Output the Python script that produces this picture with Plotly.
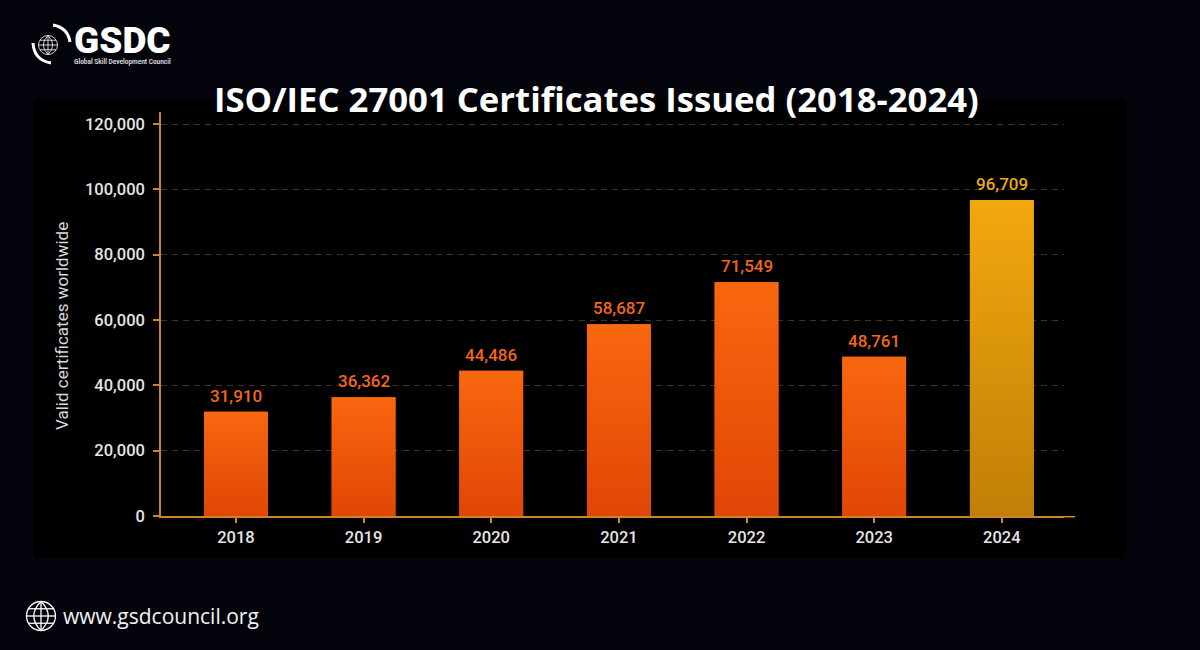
import plotly.graph_objects as go

W, H = 1200, 650

years = ["2018", "2019", "2020", "2021", "2022", "2023", "2024"]
certificates = [31910, 36362, 44486, 58687, 71549, 48761, 96709]
y_ticks = [0, 20000, 40000, 60000, 80000, 100000, 120000]

ORANGE_TOP, ORANGE_BOTTOM = "#f9670f", "#e04606"
GOLD_TOP, GOLD_BOTTOM = "#f2a80e", "#c07f08"
AXIS = "#cf8429"
GRID = "#4a3410"
TEXT = "#e6e6e6"


def px(x):
    return x / W


def py(y):
    return 1 - y / H


fig = go.Figure()

fig.add_trace(go.Bar(
    x=list(range(len(years))), y=certificates, width=0.5,
    marker=dict(color=[ORANGE_TOP] * 6 + [GOLD_TOP], line_width=0),
    hoverinfo="skip", showlegend=False,
))

# plain bars can't have a gradient, so lay a gradient filled area over each one
for i, v in enumerate(certificates):
    top, bottom = (GOLD_TOP, GOLD_BOTTOM) if i == 6 else (ORANGE_TOP, ORANGE_BOTTOM)
    fig.add_trace(go.Scatter(
        x=[i - 0.25, i - 0.25, i + 0.25, i + 0.25, i - 0.25], y=[0, v, v, 0, 0],
        mode="lines", line_width=0, fill="toself",
        fillgradient=dict(type="vertical", colorscale=[[0, bottom], [1, top]], start=0, stop=v),
        hoverinfo="skip", showlegend=False,
    ))

annotations = []
for i, v in enumerate(certificates):
    annotations.append(dict(
        x=i, y=v, xref="x", yref="y", text=f"{v:,}", showarrow=False,
        yanchor="bottom", yshift=4,
        font=dict(family="Roboto", size=17, weight=500, color="#eba81c" if i == 6 else "#f4661d"),
    ))

annotations += [
    dict(x=px(596), y=py(99), xref="paper", yref="paper", text="ISO/IEC 27001 Certificates Issued (2018-2024)",
         showarrow=False, xanchor="center", yanchor="middle",
         font=dict(family="Open Sans", size=34.7, weight=700, color="#ffffff")),
    dict(x=px(72), y=py(40), xref="paper", yref="paper", text="GSDC", showarrow=False,
         xanchor="left", yanchor="middle", height=26,
         font=dict(family="Roboto", size=37, weight=900, color="#ffffff")),
    dict(x=px(72), y=py(62), xref="paper", yref="paper", text="Global Skill Development Council",
         showarrow=False, xanchor="left", yanchor="middle",
         font=dict(family="Roboto", size=6.5, weight=700, color="#d8d8d8")),
    dict(x=px(61), y=py(616), xref="paper", yref="paper", text="www.gsdcouncil.org", showarrow=False,
         xanchor="left", yanchor="middle",
         font=dict(family="Open Sans", size=21, color="#f2f2f2")),
    # y title sits lower than the axis middle, so it can't be the normal axis title
    dict(x=px(62), y=py(326), xref="paper", yref="paper", text="Valid certificates worldwide",
         showarrow=False, textangle=-90, xanchor="center", yanchor="middle",
         font=dict(family="Roboto", size=17, color="#d8d8d8")),
]


def circle(cx, cy, r, width):
    return dict(type="circle", xref="paper", yref="paper", x0=px(cx - r), x1=px(cx + r),
                y0=py(cy + r), y1=py(cy - r), line=dict(color="#ffffff", width=width), layer="above")


def curve(d, width):
    return dict(type="path", xref="paper", yref="paper", path=d,
                line=dict(color="#ffffff", width=width), layer="above")


def p(x, y):
    return f"{px(x):.5f},{py(y):.5f}"


def globe(cx, cy, r, width):
    # meridians and parallels for the small globe icons
    s = [circle(cx, cy, r, width)]
    s.append(curve(f"M{p(cx, cy - r)} L{p(cx, cy + r)}", width))
    s.append(curve(f"M{p(cx - r, cy)} L{p(cx + r, cy)}", width))
    s.append(curve(f"M{p(cx, cy - r)} Q{p(cx - r, cy)} {p(cx, cy + r)}", width))
    s.append(curve(f"M{p(cx, cy - r)} Q{p(cx + r, cy)} {p(cx, cy + r)}", width))
    s.append(curve(f"M{p(cx - r * 0.85, cy - r * 0.5)} L{p(cx + r * 0.85, cy - r * 0.5)}", width))
    s.append(curve(f"M{p(cx - r * 0.85, cy + r * 0.5)} L{p(cx + r * 0.85, cy + r * 0.5)}", width))
    return s


shapes = [
    # black panel behind the chart
    dict(type="rect", xref="paper", yref="paper", x0=px(34), x1=px(1126), y0=py(558), y1=py(100),
         fillcolor="#000000", line_width=0, layer="below"),
    # x axis runs a bit past the end of the gridlines
    dict(type="line", xref="paper", yref="paper", x0=px(1064), x1=px(1075), y0=py(516.75), y1=py(516.75),
         line=dict(color=AXIS, width=1.5), layer="above"),
    # logo swooshes
    curve(f"M{p(53, 25)} Q{p(68, 28)} {p(70, 42)}", 3),
    curve(f"M{p(33, 43)} Q{p(34, 60)} {p(51, 63)}", 3),
]
shapes += globe(48, 45, 9.5, 0.8)
shapes += globe(41, 616, 14.5, 1.3)

fig.update_layout(
    width=W, height=H,
    margin=dict(l=0, r=0, t=0, b=0, autoexpand=False),
    paper_bgcolor="#03040c",
    plot_bgcolor="rgba(0,0,0,0)",
    font=dict(family="Roboto", color=TEXT),
    annotations=annotations,
    shapes=shapes,
    xaxis=dict(
        domain=[px(161), px(1064)], range=[-0.587, 6.487],
        tickvals=list(range(len(years))), ticktext=years,
        showgrid=False, zeroline=False,
        showline=True, linecolor=AXIS, linewidth=1.5,
        ticks="outside", ticklen=5, tickcolor=AXIS, tickwidth=1.5,
        tickfont=dict(family="Roboto", size=16.5, weight=500, color=TEXT),
    ),
    yaxis=dict(
        # axis line goes on a little above the 120,000 gridline
        domain=[py(516), py(112)], range=[0, 123673],
        tickvals=y_ticks, tickformat=",",
        showgrid=True, gridcolor=GRID, griddash="6px,5px", gridwidth=1, zeroline=False,
        showline=True, linecolor=AXIS, linewidth=1.5,
        ticks="outside", ticklen=6, tickcolor=AXIS, tickwidth=1.5,
        ticklabelstandoff=5,
        tickfont=dict(family="Roboto", size=16.5, weight=500, color=TEXT),
    ),
)

# drop the browser's default page margin so the figure fills the window
fig.write_html("out.html", config={"displayModeBar": False},
               post_script="document.body.style.margin='0';")
